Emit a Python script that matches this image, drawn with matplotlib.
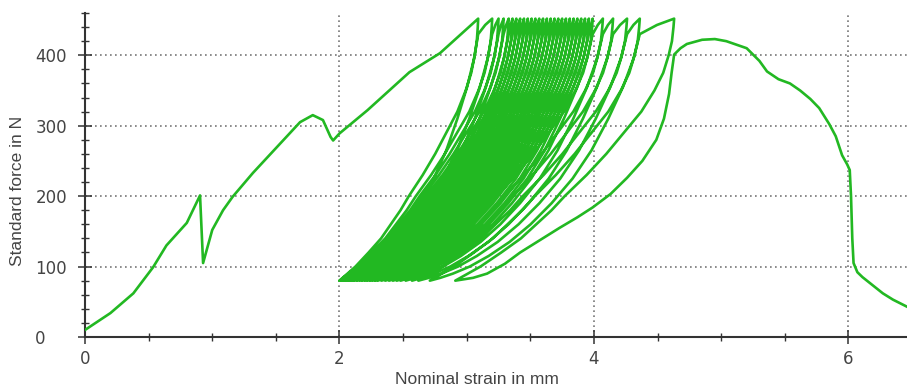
import numpy as np
import matplotlib.pyplot as plt

plt.rcParams['font.family'] = ['Liberation Sans', 'DejaVu Sans']

# first (monotonic) loading up to the first force peak
mono_strain = [0.0, 0.20, 0.38, 0.535, 0.64, 0.80, 0.904, 0.928, 1.0, 1.085, 1.16, 1.32,
               1.51, 1.69, 1.79, 1.87, 1.93, 1.95, 2.0, 2.22, 2.55, 2.79, 3.09]
mono_force = [10, 34, 62, 99, 130, 162, 201, 105, 152, 180, 199, 233,
              270, 305, 315, 308, 284, 279, 289, 322, 376, 403, 452]

# cyclic part: peak strain and valley strain of every cycle
peak_strain = [3.09, 3.20, 3.25, 3.29, 3.33, 3.36, 3.39, 3.42, 3.45, 3.48, 3.51, 3.54,
               3.57, 3.60, 3.63, 3.66, 3.69, 3.72, 3.75, 3.78, 3.81, 3.84, 3.87, 3.90,
               3.93, 3.96, 3.99, 4.07, 4.15, 4.26, 4.36, 4.63]
valley_strain = [2.00, 2.00, 2.01, 2.02, 2.03, 2.04, 2.05, 2.06, 2.07, 2.09, 2.10, 2.12,
                 2.14, 2.16, 2.18, 2.20, 2.22, 2.24, 2.26, 2.28, 2.30, 2.33, 2.36, 2.39,
                 2.42, 2.45, 2.48, 2.52, 2.57, 2.62, 2.71, 2.91]
peak_force = 452

# branch shapes: position between valley and peak strain at each force level
unload_force = [452, 440, 420, 400, 375, 350, 320, 290, 260, 230, 200, 180, 160, 140, 120, 100, 80]
unload_frac = [1.0, 0.997, 0.99, 0.975, 0.95, 0.91, 0.85, 0.77, 0.69, 0.60, 0.50, 0.44,
               0.37, 0.30, 0.21, 0.115, 0.0]
load_force = [80, 84, 90, 100, 115, 135, 160, 190, 225, 265, 310, 355, 395, 430]
load_frac = [0.0, 0.05, 0.11, 0.19, 0.28, 0.38, 0.48, 0.58, 0.68, 0.77, 0.85, 0.92, 0.97, 1.0]
# rounded top between previous turning point and the new peak
top_force = [443]
top_frac = [0.5]

# last reloading and the curve up to rupture
final_strain = [2.91, 3.05, 3.16, 3.30, 3.42, 3.58, 3.73, 3.87, 3.99, 4.13, 4.26, 4.38,
                4.49, 4.55, 4.59, 4.61, 4.63, 4.68, 4.73, 4.85, 4.95, 5.04, 5.20, 5.30,
                5.36, 5.45, 5.54, 5.62, 5.70, 5.77, 5.85, 5.90, 5.95, 5.99, 6.01, 6.02,
                6.03, 6.04, 6.07, 6.11, 6.20, 6.27, 6.35, 6.46]
final_force = [80, 84, 90, 104, 120, 138, 155, 170, 184, 203, 226, 250,
               280, 310, 345, 375, 401, 410, 416, 422, 423, 420, 410, 392,
               377, 366, 360, 350, 338, 325, 302, 285, 258, 245, 237, 200,
               140, 105, 92, 85, 72, 62, 53, 43]

xs = list(mono_strain)
ys = list(mono_force)
n = len(peak_strain)
for i in range(n):
    p, v = peak_strain[i], valley_strain[i]
    # unloading from the peak down to the valley
    xs += [v + (p - v) * f for f in unload_frac]
    ys += unload_force
    if i < n - 1:
        # reloading back to the previous turning point, then on to the next peak
        nxt = peak_strain[i + 1]
        xs += [v + (p - v) * f for f in load_frac]
        ys += load_force
        xs += [p + (nxt - p) * f for f in top_frac] + [nxt]
        ys += top_force + [peak_force]
xs += final_strain
ys += final_force

fig = plt.figure(figsize=(9.07, 3.89), dpi=100)
ax = fig.add_axes([85 / 907, 52 / 389, 822 / 907, 324 / 389])

ax.plot(xs, ys, color='#22b822', lw=1.9, solid_joinstyle='round', zorder=3)

ax.set_xlim(0, 6.46)
ax.set_ylim(0, 460)
ax.set_xticks([0, 2, 4, 6])
ax.set_xticks(np.arange(0, 6.5, 0.5), minor=True)
ax.set_yticks([0, 100, 200, 300, 400])
ax.set_yticks(np.arange(0, 461, 20), minor=True)

ax.grid(True, which='major', color='#777777', linestyle=(0, (1, 2)), lw=1.2)
for s in ['top', 'right']:
    ax.spines[s].set_visible(False)
for s in ['left', 'bottom']:
    ax.spines[s].set_color('#333333')
    ax.spines[s].set_linewidth(1.5)

ax.tick_params(which='major', direction='inout', length=10.5, width=1.1,
               color='#333333', labelsize=12, labelcolor='#444444',
               labelfontfamily='DejaVu Sans')
ax.tick_params(which='minor', direction='inout', length=5.5, width=1.0, color='#333333')
ax.tick_params(axis='x', which='major', pad=4)
ax.tick_params(axis='y', which='major', pad=30.5)
for lab in ax.get_yticklabels():
    lab.set_horizontalalignment('left')

fig.text(18 / 907, 1 - 191 / 389, 'Standard force in N', rotation=90,
         ha='center', va='center', fontsize=12.5, color='#444444')
fig.text(477 / 907, 1 - 372 / 389, 'Nominal strain in mm',
         ha='center', va='top', fontsize=12.5, color='#444444')

fig.savefig('out.png', dpi=100)
